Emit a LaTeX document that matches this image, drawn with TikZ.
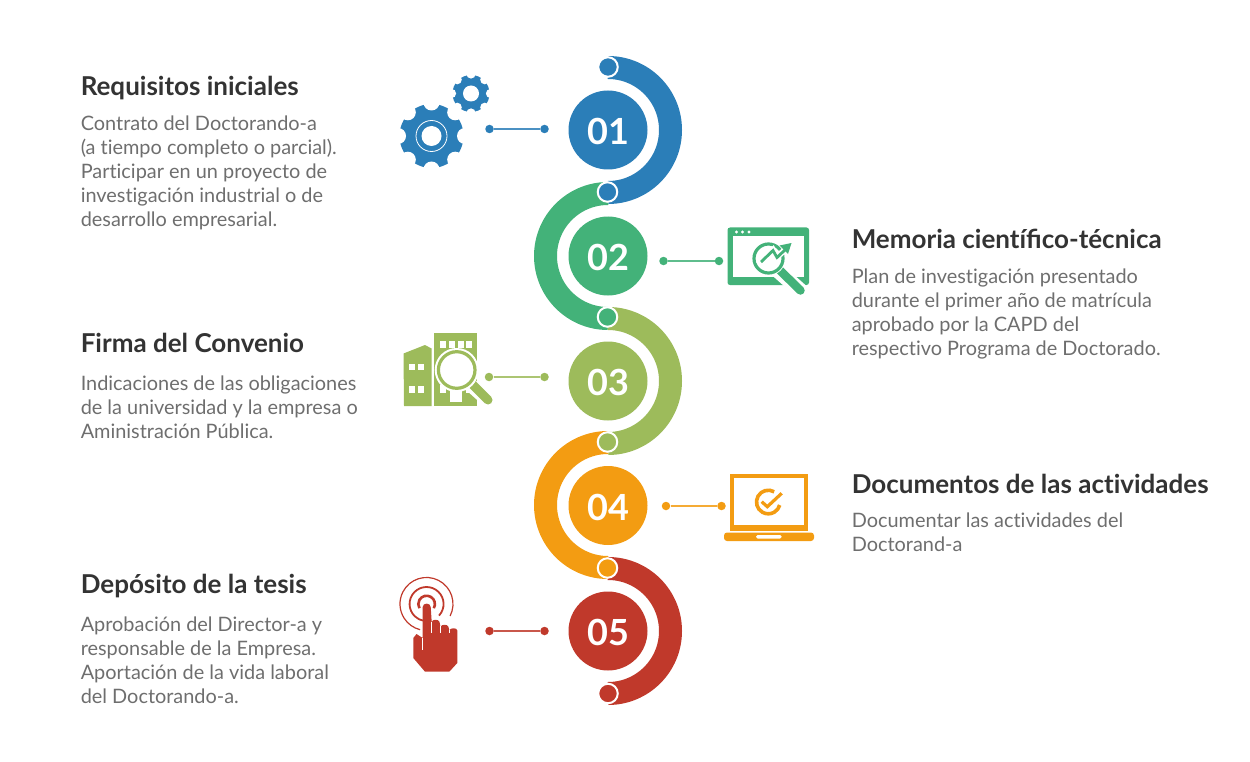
\documentclass[tikz,border=0pt]{standalone}
\usepackage{fontspec}
\setmainfont{Lato}[Ligatures=NoCommon]
\definecolor{stepblue}{HTML}{2B7EB8}
\definecolor{stepgreen}{HTML}{43B279}
\definecolor{stepolive}{HTML}{9DBB5B}
\definecolor{steporange}{HTML}{F39C12}
\definecolor{stepred}{HTML}{C0392B}
\definecolor{titlegrey}{HTML}{333333}
\definecolor{bodygrey}{HTML}{6E6E6E}
\tikzset{every picture/.style={line width=0.5pt},
  numcircle/.style={circle,minimum size=79pt,inner sep=0pt,text=white,text height=30pt,font=\fontsize{36}{36}\selectfont\bfseries},
  band/.style={line width=23pt},
  joint/.style={circle,minimum size=19.5pt,inner sep=0pt,draw=white,line width=2pt},
  linkdot/.style={circle,minimum size=8.5pt,inner sep=0pt},
  link/.style={line width=1.5pt,opacity=0.85},
  titletext/.style={anchor=base west,inner sep=0pt,text=titlegrey,font=\fontsize{26}{26}\selectfont\bfseries},
  bodytext/.style={anchor=base west,inner sep=0pt,align=left,text=bodygrey,font=\fontsize{19.9}{24}\selectfont}}

\begin{document}
\begin{tikzpicture}[x=1pt,y=1pt,yscale=-1,xscale=1]
\useasboundingbox (0,0) rectangle (1250,762);

%Shape: Arcs
\draw [band,stepblue] (608,67.5) arc[start angle=-90,end angle=90,radius=62.5];
\draw [band,stepgreen] (608,193.5) arc[start angle=-90,end angle=-270,radius=62.5];
\draw [band,stepolive] (608,318.5) arc[start angle=-90,end angle=90,radius=62.5];
\draw [band,steporange] (608,442.5) arc[start angle=-90,end angle=-270,radius=62.5];
\draw [band,stepred] (608,568.5) arc[start angle=-90,end angle=90,radius=62.5];

%Shape: Joints
\node [joint,fill=stepblue] (joint1) at (608,67) {};
\node [joint,fill=stepblue] (joint2) at (607.5,192) {};
\node [joint,fill=stepgreen] (joint3) at (607.5,317) {};
\node [joint,fill=stepolive] (joint4) at (607.5,442) {};
\node [joint,fill=steporange] (joint5) at (607.5,568) {};
\node [joint,fill=stepred] (joint6) at (608,693.5) {};

%Shape: Numbered circles
\node [numcircle,fill=stepblue] (step1) at (608,130) {01};
\node [numcircle,fill=stepgreen] (step2) at (608,256) {02};
\node [numcircle,fill=stepolive] (step3) at (608,381) {03};
\node [numcircle,fill=steporange] (step4) at (608,505.5) {04};
\node [numcircle,fill=stepred] (step5) at (608,631) {05};

%Straight Lines
\node [linkdot,fill=stepblue] (dot1a) at (489.5,129) {};
\node [linkdot,fill=stepblue] (dot1b) at (544.5,129) {};
\draw [link,stepblue] (dot1a) -- (dot1b);
\node [linkdot,fill=stepgreen] (dot2a) at (663.5,261) {};
\node [linkdot,fill=stepgreen] (dot2b) at (719,261) {};
\draw [link,stepgreen] (dot2a) -- (dot2b);
\node [linkdot,fill=stepolive] (dot3a) at (489,377) {};
\node [linkdot,fill=stepolive] (dot3b) at (544.5,377) {};
\draw [link,stepolive] (dot3a) -- (dot3b);
\node [linkdot,fill=steporange] (dot4a) at (666,506) {};
\node [linkdot,fill=steporange] (dot4b) at (721.5,506) {};
\draw [link,steporange] (dot4a) -- (dot4b);
\node [linkdot,fill=stepred] (dot5a) at (489.5,631) {};
\node [linkdot,fill=stepred] (dot5b) at (544.5,631) {};
\draw [link,stepred] (dot5a) -- (dot5b);

%Shape: Gears
\fill [stepblue] (431.5,136) circle [radius=32];
\foreach \a in {0,45,...,315} {
  \fill [white] (431.5,136) ++(\a:33.5) circle [radius=8];
}
\draw [white,line width=0.8pt] (431.5,136) circle [radius=15.5];
\fill [white] (431.5,136) circle [radius=10];
\fill [stepblue] (471,93.5) circle [radius=18.5];
\foreach \a in {0,45,...,315} {
  \fill [white] (471,93.5) ++(\a:19.5) circle [radius=4.6];
}
\fill [white] (471,93.5) circle [radius=8];

%Shape: Browser window
\fill [stepgreen,rounded corners=2.5pt] (727.5,227.5) rectangle (809,285);
\fill [white] (732.5,235.5) rectangle (804,276.5);
\foreach \x in {736.5,742.5,749} {
  \fill [white] (\x,232) circle [radius=1.6];
}
\draw [white,line width=15pt] (775,268) -- (802,292);
\draw [stepgreen,line width=8.5pt,line cap=round] (778,268.5) -- (800.5,290.5);
\fill [white] (768.5,258.5) circle [radius=17];
\draw [stepgreen,line width=3.2pt] (768.5,258.5) circle [radius=14.5];
\draw [white,line width=6pt] (758,264) -- (773,250) -- (777,257) -- (788,247);
\draw [stepgreen,line width=2.8pt] (761,262) -- (773,250.5) -- (777,257.5) -- (787,248);
\fill [stepgreen] (791.5,243) -- (779.5,245.5) -- (788,254) -- cycle;

%Shape: Buildings
\fill [stepolive] (403.5,353.5) -- (425,345) -- (431.5,348.5) -- (431.5,406) -- (404,406) -- cycle;
\fill [stepolive] (433.5,332.5) rectangle (477,406);
\foreach \x in {409,417.7} {
  \fill [white] (\x,363.5) rectangle ++(6,6.5);
  \fill [white] (\x,385.5) rectangle ++(6,7);
}
\foreach \x in {439.5,448.5,457.5,466} {
  \fill [white] (\x,340.5) rectangle ++(6,7);
}
\fill [white] (439.5,385) rectangle ++(6.5,8);
\fill [white] (466,385) rectangle ++(6,8);
\fill [white] (450,390) rectangle (462,402);
\draw [white,line width=14pt] (472,386) -- (491,403);
\draw [stepolive,line width=9pt,line cap=round] (473,385) -- (488,400);
\fill [white] (456.7,370) circle [radius=22];
\draw [stepolive,line width=3.2pt] (456.7,370) circle [radius=18.3];

%Shape: Laptop
\fill [steporange] (729.5,473.5) rectangle (807.5,530.5);
\fill [white] (734,477.5) rectangle (804,525);
\fill [steporange,rounded corners=3pt] (724,532.5) -- (814,532.5) -- (814,541) -- (724,541) -- cycle;
\fill [white,rounded corners=1.5pt] (756,535) rectangle (781.5,538.5);
\draw [steporange,line width=3.6pt] (774.2,491.8) arc[start angle=-60,end angle=-345,radius=11.8];
\draw [white,line width=7pt] (761.7,501.7) -- (767.3,506.7) -- (781.7,493.3);
\draw [steporange,line width=3.2pt] (761.7,501.7) -- (767.3,506.7) -- (781.7,493.3);

%Shape: Touch hand
\draw [stepred,line width=1.2pt] (450.1,616) arc[start angle=27,end angle=-256,radius=26.5];
\draw [stepred,line width=1.8pt] (439,615.6) arc[start angle=43,end angle=-260,radius=17];
\draw [stepred,line width=2.6pt] (433.8,608.2) arc[start angle=30,end angle=-210,radius=8.3];
\draw [white,line width=3pt] (422.7,610) -- (422.7,607) .. controls (422.7,602.5) and (430.7,602.5) .. (430.7,607) -- (430.7,612);
\fill [stepred] (413.3,658) -- (413.3,638) -- (416.5,634) -- (422.7,638) -- (422.7,607) .. controls (422.7,602.5) and (430.7,602.5) .. (430.7,607) -- (431.7,622) .. controls (432,619) and (439,619) .. (439.5,622) -- (440.5,627) .. controls (441,624) and (448,624) .. (448.5,627) -- (449.3,630.5) .. controls (450,627.5) and (457.3,627.5) .. (457.3,630.5) -- (457.3,663) -- (449.3,671.7) -- (425,671.7) -- cycle;
\draw [white,line width=0.7pt] (422,638) -- (422,650);
\draw [white,line width=0.7pt] (431.7,622) -- (431.7,633);
\draw [white,line width=0.7pt] (440.3,626) -- (440.3,633);
\draw [white,line width=0.7pt] (449,630) -- (449,633);

% Text Node
\draw (80.5,96) node (title1) [titletext] {Requisitos iniciales};
% Text Node
\draw (80.5,226.5) node (body1) [bodytext] {Contrato del Doctorando-a\\(a tiempo completo o parcial).\\Participar en un proyecto de\\investigación industrial o de\\desarrollo empresarial.};
% Text Node
\draw (851.5,248.5) node (title2) [titletext] {Memoria cientíﬁco-técnica};
% Text Node
\draw (851.5,355.5) node (body2) [bodytext] {Plan de investigación presentado\\durante el primer año de matrícula\\aprobado por la CAPD del\\respectivo Programa de Doctorado.};
% Text Node
\draw (80.5,352.5) node (title3) [titletext] {Firma del Convenio};
% Text Node
\draw (80.5,438.5) node (body3) [bodytext] {Indicaciones de las obligaciones\\de la universidad y la empresa o\\Aministración Pública.};
% Text Node
\draw (851.5,493) node (title4) [titletext] {Documentos de las actividades};
% Text Node
\draw (851.5,551.5) node (body4) [bodytext] {Documentar las actividades del\\Doctorand-a};
% Text Node
\draw (80.5,593.5) node (title5) [titletext] {Depósito de la tesis};
% Text Node
\draw (80.5,703.5) node (body5) [bodytext] {Aprobación del Director-a y\\responsable de la Empresa.\\Aportación de la vida laboral\\del Doctorando-a.};

\end{tikzpicture}
\end{document}
